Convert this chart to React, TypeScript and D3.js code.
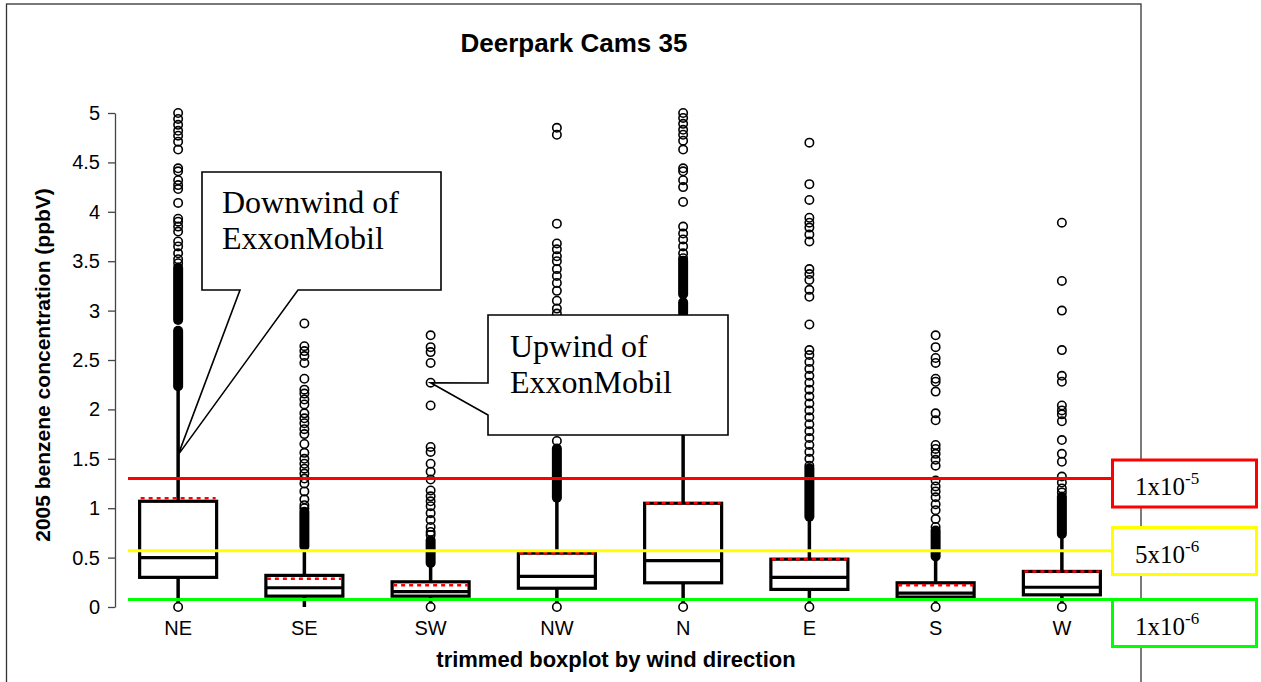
import React, { useEffect, useRef } from "react";
import * as d3 from "d3";

// wind directions and box statistics (ppbV)
const directions = ["NE", "SE", "SW", "NW", "N", "E", "S", "W"];
const q1 = [0.3, 0.11, 0.11, 0.19, 0.245, 0.178, 0.1, 0.123];
const medians = [0.5, 0.195, 0.155, 0.31, 0.47, 0.3, 0.14, 0.2];
const q3 = [1.07, 0.32, 0.255, 0.545, 1.05, 0.484, 0.245, 0.36];
const means = [1.1, 0.285, 0.22, 0.545, 1.05, 0.484, 0.22, 0.36];
const whiskerLow = [0.04, 0.0, 0.04, 0.04, 0.04, 0.04, 0.04, 0.04];
const whiskerHigh = [2.23, 0.61, 0.44, 1.1, 2.95, 0.91, 0.506, 0.735];

// single outliers
const outliersNE = [0, 3.48, 3.52, 3.58, 3.65, 3.7, 3.8, 3.85, 3.9, 3.93, 4.09, 4.23, 4.27, 4.32, 4.41, 4.44, 4.63, 4.71, 4.77, 4.82, 4.88, 4.94, 5.0];
const outliersSE = [1.0, 1.03, 1.09, 1.17, 1.25, 1.3, 1.35, 1.4, 1.45, 1.5, 1.56, 1.65, 1.75, 1.8, 1.86, 1.91, 1.96, 2.05, 2.1, 2.16, 2.2, 2.31, 2.47, 2.54, 2.59, 2.64, 2.87];
const outliersSW = [0, 0.73, 0.76, 0.81, 0.88, 0.95, 1.02, 1.07, 1.12, 1.18, 1.29, 1.37, 1.45, 1.57, 1.62, 2.04, 2.27, 2.47, 2.58, 2.63, 2.75];
const outliersNW = [0, 1.68, 2.97, 3.02, 3.1, 3.2, 3.28, 3.35, 3.42, 3.5, 3.55, 3.62, 3.68, 3.88, 4.78, 4.85];
const outliersN = [0, 3.53, 3.58, 3.65, 3.72, 3.78, 3.85, 4.1, 4.25, 4.32, 4.41, 4.44, 4.63, 4.72, 4.78, 4.83, 4.89, 4.95, 5.0];
const outliersE = [0, 1.43, 1.5, 1.57, 1.64, 1.71, 1.78, 1.85, 1.92, 1.99, 2.06, 2.13, 2.2, 2.27, 2.34, 2.41, 2.48, 2.55, 2.6, 2.86, 3.14, 3.21, 3.31, 3.37, 3.42, 3.7, 3.77, 3.84, 3.89, 3.94, 4.12, 4.28, 4.7];
const outliersS = [0, 0.81, 0.89, 0.98, 1.04, 1.11, 1.17, 1.22, 1.28, 1.43, 1.49, 1.55, 1.6, 1.64, 1.89, 1.96, 2.18, 2.28, 2.31, 2.47, 2.52, 2.63, 2.75];
const outliersW = [0, 1.16, 1.2, 1.26, 1.32, 1.47, 1.55, 1.69, 1.88, 1.95, 1.99, 2.04, 2.28, 2.34, 2.6, 3.0, 3.3, 3.89];

// runs of overlapping outliers [from, to]
const denseNE = [[2.23, 2.8], [2.9, 3.44]];
const denseSE = [[0.61, 0.97]];
const denseSW = [[0.44, 0.68]];
const denseNW = [[1.1, 1.61]];
const denseN = [[2.97, 3.09], [3.16, 3.51]];
const denseE = [[0.91, 1.41]];
const denseS = [[0.506, 0.78]];
const denseW = [[0.735, 1.12]];

const outliers = [outliersNE, outliersSE, outliersSW, outliersNW, outliersN, outliersE, outliersS, outliersW];
const dense = [denseNE, denseSE, denseSW, denseNW, denseN, denseE, denseS, denseW];

const yTicks = [0, 0.5, 1, 1.5, 2, 2.5, 3, 3.5, 4, 4.5, 5];

// cancer risk levels
const riskLevels = [1.3, 0.57, 0.075];
const riskBase = ["1x10", "5x10", "1x10"];
const riskExp = ["-5", "-6", "-6"];
const riskColors = ["#ff0000", "#ffff00", "#00ff00"];
const riskBoxTop = [460, 527.5, 599.5];

const sans = "'Liberation Sans', Arial, sans-serif";
const serif = "'Liberation Serif', 'Times New Roman', serif";

const App = () => {
  const yAxisRef = useRef<SVGGElement>(null);
  const xAxisRef = useRef<SVGGElement>(null);

  const x = d3.scaleBand().domain(directions).range([115, 1125]);
  const y = d3.scaleLinear().domain([0, 5]).range([607, 113]);
  const cx = (d: string) => (x(d) as number) + x.bandwidth() / 2;
  const boxW = 77;

  useEffect(() => {
    const yAxis = d3
      .axisLeft(y)
      .tickValues(yTicks)
      .tickSize(7)
      .tickSizeOuter(0)
      .tickPadding(8)
      .tickFormat(d3.format("~g"));
    const gy = d3.select(yAxisRef.current).attr("transform", "translate(115,0)").call(yAxis);
    gy.select(".domain").attr("stroke", "#444").attr("stroke-width", 1.3);
    gy.selectAll(".tick line").attr("stroke", "#444").attr("stroke-width", 1.3);
    gy.selectAll(".tick text").style("font", `20px ${sans}`).attr("fill", "#000");

    const xAxis = d3.axisBottom(x).tickSize(0).tickPadding(14);
    const gx = d3.select(xAxisRef.current).attr("transform", "translate(0,607)").call(xAxis);
    gx.select(".domain").remove();
    gx.selectAll(".tick text").style("font", `20px ${sans}`).attr("fill", "#000");
  }, []);

  const tipDown: [number, number] = [cx("NE"), y(1.54)];
  const tipUp: [number, number] = [cx("SW"), y(2.27)];

  return (
    <svg width={1261} height={682} style={{ position: "absolute", left: 0, top: 0, background: "#fff" }}>
      <rect x={6.5} y={4} width={1134.5} height={700} fill="none" stroke="#333" strokeWidth={1.3} />

      <text x={574} y={52} textAnchor="middle" style={{ font: `bold 26px ${sans}` }}>
        Deerpark Cams 35
      </text>

      <g ref={yAxisRef} />
      <g ref={xAxisRef} />

      <text
        transform="translate(50,365) rotate(-90)"
        textAnchor="middle"
        style={{ font: `bold 21px ${sans}` }}
      >
        2005 benzene concentration (ppbV)
      </text>
      <text x={616} y={667} textAnchor="middle" style={{ font: `bold 22px ${sans}` }}>
        trimmed boxplot by wind direction
      </text>

      {directions.map((d, i) => {
        const c = cx(d);
        return (
          <g key={d}>
            <line x1={c} x2={c} y1={y(whiskerLow[i])} y2={y(q1[i])} stroke="#000" strokeWidth={3.5} />
            <line x1={c} x2={c} y1={y(q3[i])} y2={y(whiskerHigh[i])} stroke="#000" strokeWidth={3.5} />
            <rect
              x={c - boxW / 2}
              y={y(q3[i])}
              width={boxW}
              height={y(q1[i]) - y(q3[i])}
              fill="none"
              stroke="#000"
              strokeWidth={3.2}
            />
            <line x1={c - boxW / 2} x2={c + boxW / 2} y1={y(medians[i])} y2={y(medians[i])} stroke="#000" strokeWidth={3.2} />
            <line
              x1={c - boxW / 2 + 1}
              x2={c + boxW / 2 - 1}
              y1={y(means[i])}
              y2={y(means[i])}
              stroke="#ff0000"
              strokeWidth={2.5}
              strokeDasharray="4 4"
            />
            {dense[i].map(([lo, hi], k) => (
              <rect key={k} x={c - 5} y={y(hi) - 4.5} width={10} height={y(lo) - y(hi) + 9} rx={5} fill="#000" />
            ))}
            {outliers[i].map((v, k) => (
              <circle key={k} cx={c} cy={y(v)} r={4.2} fill="none" stroke="#000" strokeWidth={1.6} />
            ))}
          </g>
        );
      })}

      {riskLevels.map((v, i) => (
        <g key={i}>
          <line x1={128} x2={1112} y1={y(v)} y2={y(v)} stroke={riskColors[i]} strokeWidth={3} />
          <rect x={1112.5} y={riskBoxTop[i]} width={144} height={47} fill="#fff" stroke={riskColors[i]} strokeWidth={3} />
          <text x={1135} y={riskBoxTop[i] + 35} style={{ font: `25px ${serif}` }}>
            {riskBase[i]}
            <tspan dy={-11} style={{ fontSize: "17px" }}>
              {riskExp[i]}
            </tspan>
          </text>
        </g>
      ))}

      <path
        d={`M202,172 H441 V290 H298 L${tipDown[0]},${tipDown[1]} L240,290 H202 Z`}
        fill="#fff"
        stroke="#000"
        strokeWidth={1.6}
      />
      <text style={{ font: `32px ${serif}` }}>
        <tspan x={222} y={213}>Downwind of</tspan>
        <tspan x={222} y={249}>ExxonMobil</tspan>
      </text>

      <path
        d={`M488,315 H728 V435 H488 V415 L${tipUp[0]},${tipUp[1]} L488,383 Z`}
        fill="#fff"
        stroke="#000"
        strokeWidth={1.6}
      />
      <text style={{ font: `32px ${serif}` }}>
        <tspan x={510} y={357}>Upwind of</tspan>
        <tspan x={510} y={393}>ExxonMobil</tspan>
      </text>
    </svg>
  );
};

export default App;
